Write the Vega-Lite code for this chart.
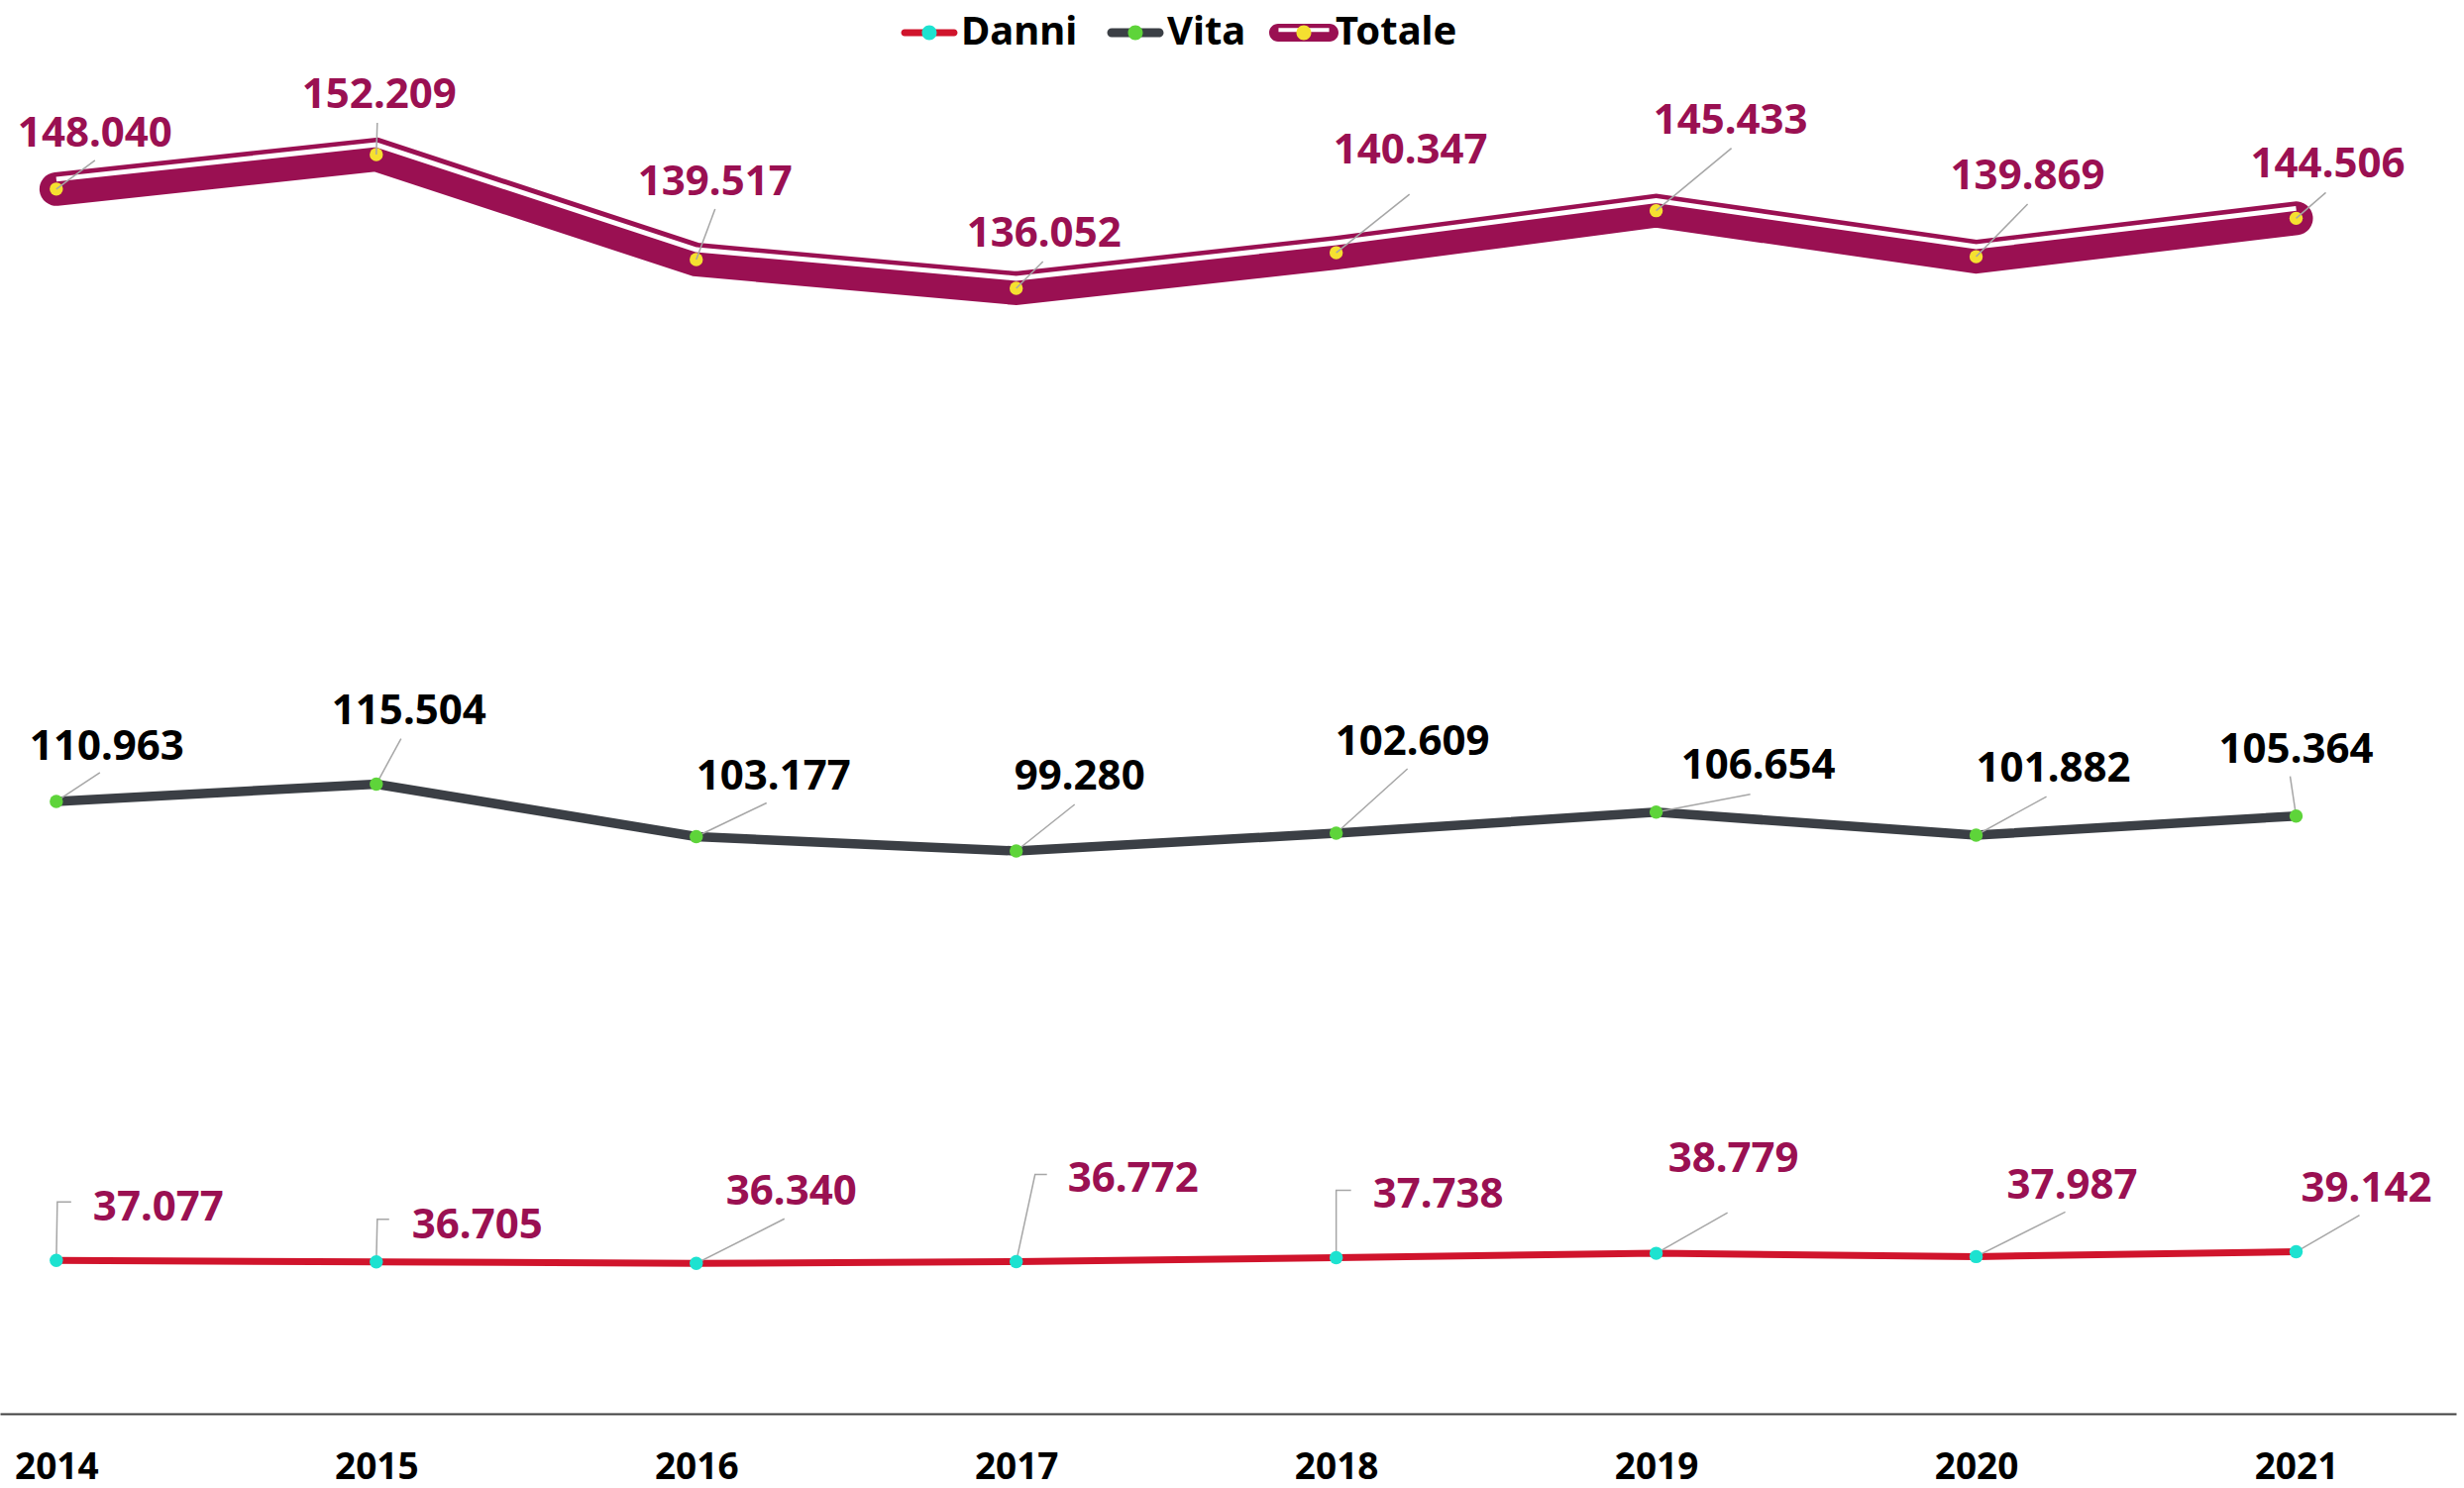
{
  "$schema": "https://vega.github.io/schema/vega-lite/v6.json",
  "width": 2479,
  "height": 1336,
  "autosize": {"type": "none"},
  "padding": {"top": 91, "left": 0, "right": 8, "bottom": 75},
  "background": "white",
  "config": {
    "view": {"stroke": null},
    "font": "Noto Sans",
    "locale": {"number": {"decimal": ",", "thousands": ".", "grouping": [3], "currency": ["€", ""]}}
  },
  "data": {
    "values": [
      {"year": 2014, "serie": "Danni", "value": 37077},
      {"year": 2015, "serie": "Danni", "value": 36705},
      {"year": 2016, "serie": "Danni", "value": 36340},
      {"year": 2017, "serie": "Danni", "value": 36772},
      {"year": 2018, "serie": "Danni", "value": 37738},
      {"year": 2019, "serie": "Danni", "value": 38779},
      {"year": 2020, "serie": "Danni", "value": 37987},
      {"year": 2021, "serie": "Danni", "value": 39142},
      {"year": 2014, "serie": "Vita", "value": 110963},
      {"year": 2015, "serie": "Vita", "value": 115504},
      {"year": 2016, "serie": "Vita", "value": 103177},
      {"year": 2017, "serie": "Vita", "value": 99280},
      {"year": 2018, "serie": "Vita", "value": 102609},
      {"year": 2019, "serie": "Vita", "value": 106654},
      {"year": 2020, "serie": "Vita", "value": 101882},
      {"year": 2021, "serie": "Vita", "value": 105364},
      {"year": 2014, "serie": "Totale", "value": 148040},
      {"year": 2015, "serie": "Totale", "value": 152209},
      {"year": 2016, "serie": "Totale", "value": 139517},
      {"year": 2017, "serie": "Totale", "value": 136052},
      {"year": 2018, "serie": "Totale", "value": 140347},
      {"year": 2019, "serie": "Totale", "value": 145433},
      {"year": 2020, "serie": "Totale", "value": 139869},
      {"year": 2021, "serie": "Totale", "value": 144506}
    ]
  },
  "encoding": {
    "x": {
      "field": "year",
      "type": "quantitative",
      "scale": {"domain": [2013.824, 2021.5], "nice": false, "zero": false},
      "axis": {
        "values": [2014, 2015, 2016, 2017, 2018, 2019, 2020, 2021],
        "format": "d",
        "title": null,
        "grid": false,
        "ticks": false,
        "tickSize": 0,
        "labelFont": "Noto Sans",
        "labelFontSize": 37,
        "labelFontWeight": "bold",
        "labelColor": "#000000",
        "labelPadding": 36,
        "labelFlush": false,
        "labelOverlap": false,
        "domainColor": "#404040",
        "domainWidth": 2
      }
    }
  },
  "layer": [
    {
      "transform": [{"filter": {"field": "serie", "equal": "Totale"}}],
      "encoding": {
        "y": {"field": "value", "type": "quantitative", "scale": {"domain": [0, 160000], "nice": false, "zero": true}, "axis": null}
      },
      "layer": [
        {
          "mark": {"type": "line", "strokeWidth": 34, "strokeCap": "round", "strokeJoin": "miter"},
          "encoding": {
            "color": {
              "field": "serie", "type": "nominal",
              "scale": {"domain": ["Danni", "Vita", "Totale"], "range": ["#D0142C", "#3B3F45", "#9A1052"]},
              "legend": {
                "title": null, "orient": "none", "legendX": 903, "legendY": -93, "direction": "horizontal",
                "symbolType": "M-1,0L1,0M-0.714,-0.1H0.714A0.1,0.1,0,0,1,0.714,0.1H-0.714A0.1,0.1,0,0,1,-0.714,-0.1Z", "symbolSize": 4900, "symbolStrokeWidth": 0,
                "labelFont": "Noto Sans", "labelFontSize": 40, "labelFontWeight": "bold", "labelColor": "#000000",
                "labelOffset": -3, "columnPadding": 23, "padding": 0, "zindex": 1,
                "encode": {"symbols": {"update": {
                  "shape": {"signal": "datum.value === 'Totale' ? 'M-1,0L1,0M-0.743,-0.257H0.743A0.257,0.257,0,0,1,0.743,0.257H-0.743A0.257,0.257,0,0,1,-0.743,-0.257ZM-0.73,-0.137V-0.023H0.73V-0.137Z' : datum.value === 'Vita' ? 'M-1,0L1,0M-0.684,-0.13H0.684A0.13,0.13,0,0,1,0.684,0.13H-0.684A0.13,0.13,0,0,1,-0.684,-0.13Z' : 'M-1,0L1,0M-0.714,-0.1H0.714A0.1,0.1,0,0,1,0.714,0.1H-0.714A0.1,0.1,0,0,1,-0.714,-0.1Z'"},
                  "fill": {"scale": "color", "field": "value"},
                  "fillOpacity": {"value": 1},
                  "strokeWidth": {"value": 0}
                }}}
              }
            }
          }
        },
        {
          "mark": {"type": "line", "strokeWidth": 5, "stroke": "white", "yOffset": -10, "strokeCap": "butt"},
          "encoding": {}
        },
        {
          "mark": {"type": "circle", "size": 180, "opacity": 1},
          "encoding": {
            "fill": {
              "field": "serie", "type": "nominal", "sort": ["Danni", "Vita", "Totale"],
              "scale": {"range": ["#1DE2D0", "#5ED43A", "#F5E030"]},
              "legend": {
                "title": null, "orient": "none", "legendX": 903, "legendY": -93, "direction": "horizontal",
                "symbolType": "M-1,0L1,0M0.214,0A0.214,0.214,0,1,1,-0.214,0A0.214,0.214,0,1,1,0.214,0Z", "symbolSize": 4900, "symbolStrokeWidth": 0, "symbolOpacity": 1,
                "labelFont": "Noto Sans", "labelFontSize": 40, "labelFontWeight": "bold", "labelOpacity": 0,
                "labelOffset": -3, "columnPadding": 23, "padding": 0, "zindex": 2
              }
            }
          }
        },
        {
          "mark": {"type": "point", "filled": false, "size": 4, "stroke": "#A6A6A6", "strokeWidth": 1.5, "opacity": 1,
            "shape": {"expr": "['M0,0L39,-29','M0,0L1,-32','M0,0L19,-51','M0,0L27,-27','M0,0L74,-59','M0,0L76,-63','M0,0L52,-53','M0,0L30,-26'][datum.year-2014]"}},
          "encoding": {}
        },
        {
          "mark": {"type": "text", "font": "Noto Sans", "fontSize": 42, "fontWeight": "bold", "color": "#9A1052", "align": "center", "baseline": "middle",
            "dx": {"expr": "[39,3,19,28,75,75,52,32][datum.year-2014]"},
            "dy": {"expr": "[-56,-60,-78,-55,-103,-91,-81,-54][datum.year-2014]"}},
          "encoding": {"text": {"field": "value", "type": "quantitative", "format": ",d"}}
        }
      ]
    },
    {
      "transform": [
        {"filter": {"field": "serie", "oneOf": ["Danni", "Vita"]}},
        {"stack": "value", "groupby": ["year"], "sort": [{"field": "serie", "order": "ascending"}], "as": ["v0", "v1"]}
      ],
      "encoding": {
        "y": {"field": "v1", "type": "quantitative", "stack": null, "scale": {"domain": [0, 320000], "nice": false, "zero": true}, "axis": null}
      },
      "layer": [
        {
          "transform": [{"filter": {"field": "serie", "equal": "Danni"}}],
          "mark": {"type": "line", "strokeWidth": 7},
          "encoding": {
            "color": {
              "field": "serie", "type": "nominal",
              "scale": {"domain": ["Danni", "Vita", "Totale"], "range": ["#D0142C", "#3B3F45", "#9A1052"]},
              "legend": {
                "title": null, "orient": "none", "legendX": 903, "legendY": -93, "direction": "horizontal",
                "symbolType": "M-1,0L1,0M-0.714,-0.1H0.714A0.1,0.1,0,0,1,0.714,0.1H-0.714A0.1,0.1,0,0,1,-0.714,-0.1Z", "symbolSize": 4900, "symbolStrokeWidth": 0,
                "labelFont": "Noto Sans", "labelFontSize": 40, "labelFontWeight": "bold", "labelColor": "#000000",
                "labelOffset": -3, "columnPadding": 23, "padding": 0, "zindex": 1,
                "encode": {"symbols": {"update": {
                  "shape": {"signal": "datum.value === 'Totale' ? 'M-1,0L1,0M-0.743,-0.257H0.743A0.257,0.257,0,0,1,0.743,0.257H-0.743A0.257,0.257,0,0,1,-0.743,-0.257ZM-0.73,-0.137V-0.023H0.73V-0.137Z' : datum.value === 'Vita' ? 'M-1,0L1,0M-0.684,-0.13H0.684A0.13,0.13,0,0,1,0.684,0.13H-0.684A0.13,0.13,0,0,1,-0.684,-0.13Z' : 'M-1,0L1,0M-0.714,-0.1H0.714A0.1,0.1,0,0,1,0.714,0.1H-0.714A0.1,0.1,0,0,1,-0.714,-0.1Z'"},
                  "fill": {"scale": "color", "field": "value"},
                  "fillOpacity": {"value": 1},
                  "strokeWidth": {"value": 0}
                }}}
              }
            }
          }
        },
        {
          "transform": [{"filter": {"field": "serie", "equal": "Vita"}}],
          "mark": {"type": "line", "strokeWidth": 9.5},
          "encoding": {
            "color": {
              "field": "serie", "type": "nominal",
              "scale": {"domain": ["Danni", "Vita", "Totale"], "range": ["#D0142C", "#3B3F45", "#9A1052"]},
              "legend": {
                "title": null, "orient": "none", "legendX": 903, "legendY": -93, "direction": "horizontal",
                "symbolType": "M-1,0L1,0M-0.714,-0.1H0.714A0.1,0.1,0,0,1,0.714,0.1H-0.714A0.1,0.1,0,0,1,-0.714,-0.1Z", "symbolSize": 4900, "symbolStrokeWidth": 0,
                "labelFont": "Noto Sans", "labelFontSize": 40, "labelFontWeight": "bold", "labelColor": "#000000",
                "labelOffset": -3, "columnPadding": 23, "padding": 0, "zindex": 1,
                "encode": {"symbols": {"update": {
                  "shape": {"signal": "datum.value === 'Totale' ? 'M-1,0L1,0M-0.743,-0.257H0.743A0.257,0.257,0,0,1,0.743,0.257H-0.743A0.257,0.257,0,0,1,-0.743,-0.257ZM-0.73,-0.137V-0.023H0.73V-0.137Z' : datum.value === 'Vita' ? 'M-1,0L1,0M-0.684,-0.13H0.684A0.13,0.13,0,0,1,0.684,0.13H-0.684A0.13,0.13,0,0,1,-0.684,-0.13Z' : 'M-1,0L1,0M-0.714,-0.1H0.714A0.1,0.1,0,0,1,0.714,0.1H-0.714A0.1,0.1,0,0,1,-0.714,-0.1Z'"},
                  "fill": {"scale": "color", "field": "value"},
                  "fillOpacity": {"value": 1},
                  "strokeWidth": {"value": 0}
                }}}
              }
            }
          }
        },
        {
          "transform": [{"filter": {"field": "serie", "equal": "Danni"}}],
          "mark": {"type": "point", "filled": false, "size": 4, "stroke": "#A6A6A6", "strokeWidth": 1.5, "opacity": 1,
            "shape": {"expr": "['M0,0L1,-59L15,-59','M0,0L1,-43L13,-43','M0,0L89,-45','M0,0L19,-88L31,-88','M0,0L0,-68L15,-68','M0,0L72,-41','M0,0L90,-45','M0,0L64,-37'][datum.year-2014]"}},
          "encoding": {}
        },
        {
          "transform": [{"filter": {"field": "serie", "equal": "Vita"}}],
          "mark": {"type": "point", "filled": false, "size": 4, "stroke": "#A6A6A6", "strokeWidth": 1.5, "opacity": 1,
            "shape": {"expr": "['M0,0L44,-29','M0,0L25,-46','M0,0L71,-34','M0,0L59,-47','M0,0L72,-65','M0,0L95,-18','M0,0L71,-39','M0,0L-6,-40'][datum.year-2014]"}},
          "encoding": {}
        },
        {
          "mark": {"type": "circle", "size": 180, "opacity": 1},
          "encoding": {
            "fill": {
              "field": "serie", "type": "nominal", "sort": ["Danni", "Vita", "Totale"],
              "scale": {"range": ["#1DE2D0", "#5ED43A", "#F5E030"]},
              "legend": {
                "title": null, "orient": "none", "legendX": 903, "legendY": -93, "direction": "horizontal",
                "symbolType": "M-1,0L1,0M0.214,0A0.214,0.214,0,1,1,-0.214,0A0.214,0.214,0,1,1,0.214,0Z", "symbolSize": 4900, "symbolStrokeWidth": 0, "symbolOpacity": 1,
                "labelFont": "Noto Sans", "labelFontSize": 40, "labelFontWeight": "bold", "labelOpacity": 0,
                "labelOffset": -3, "columnPadding": 23, "padding": 0, "zindex": 2
              }
            }
          }
        },
        {
          "transform": [{"filter": {"field": "serie", "equal": "Danni"}}],
          "mark": {"type": "text", "font": "Noto Sans", "fontSize": 42, "fontWeight": "bold", "color": "#9A1052", "align": "center", "baseline": "middle",
            "dx": {"expr": "[103,102,96,118,103,78,97,71][datum.year-2014]"},
            "dy": {"expr": "[-53,-37,-72,-83,-63,-95,-71,-64][datum.year-2014]"}},
          "encoding": {"text": {"field": "value", "type": "quantitative", "format": ",d"}}
        },
        {
          "transform": [{"filter": {"field": "serie", "equal": "Vita"}}],
          "mark": {"type": "text", "font": "Noto Sans", "fontSize": 42, "fontWeight": "bold", "color": "#000000", "align": "center", "baseline": "middle",
            "dx": {"expr": "[51,33,78,64,77,103,78,0][datum.year-2014]"},
            "dy": {"expr": "[-55,-74,-61,-75,-92,-47,-67,-67][datum.year-2014]"}},
          "encoding": {"text": {"field": "value", "type": "quantitative", "format": ",d"}}
        }
      ]
    }
  ],
  "resolve": {"scale": {"y": "independent"}}
}
